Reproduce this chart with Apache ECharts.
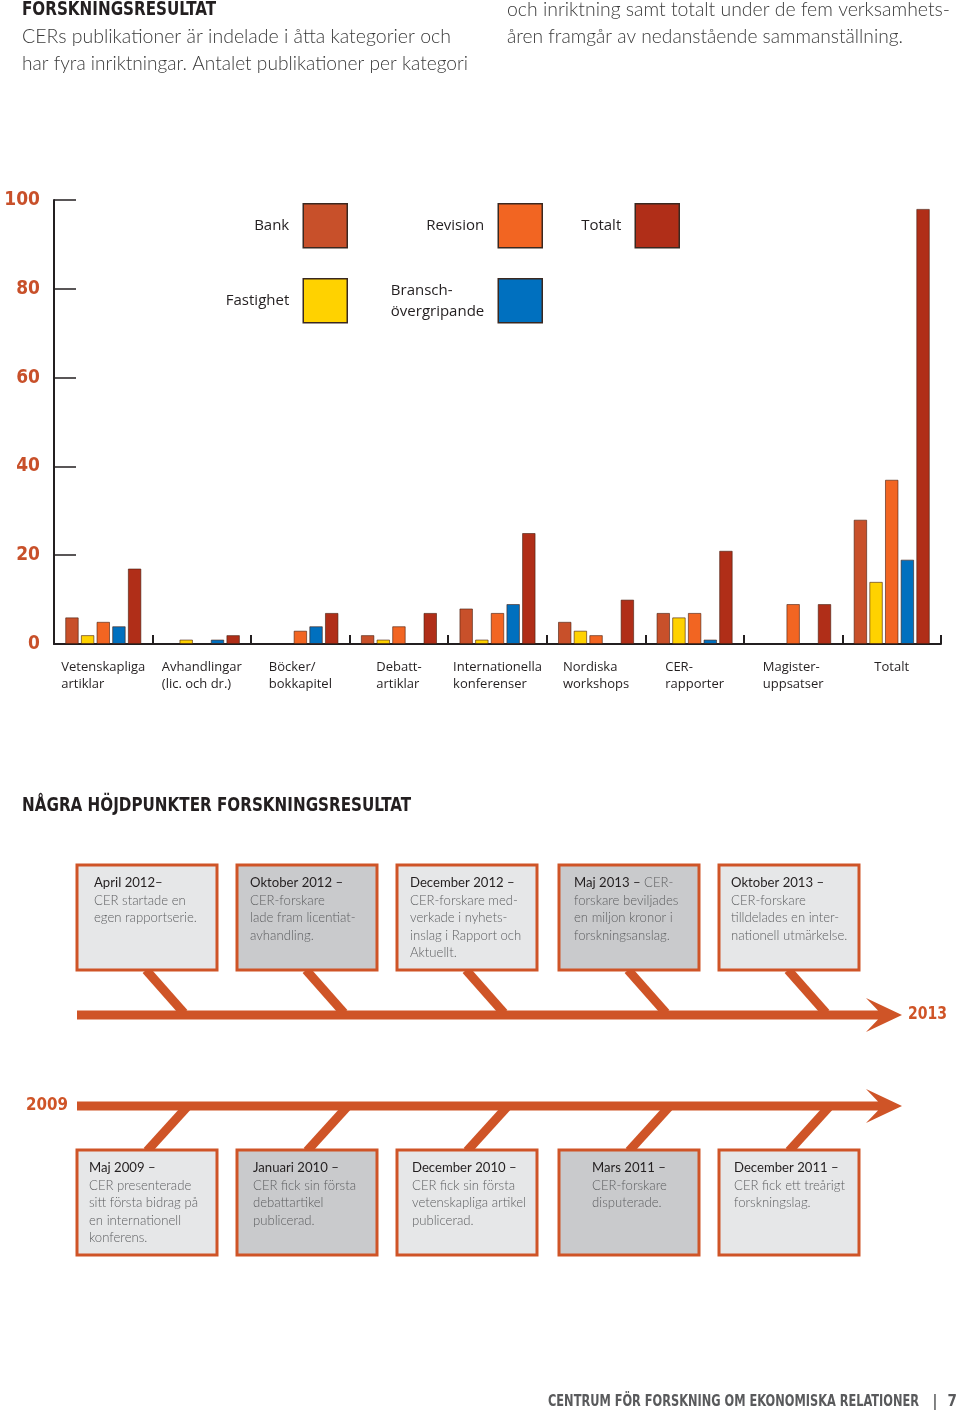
<!DOCTYPE html>
<html>
<head>
<meta charset="utf-8">
<script src="https://cdn.jsdelivr.net/npm/echarts@6/dist/echarts.min.js"></script>
<style>
html,body{margin:0;padding:0;background:#fff;}
#c{width:960px;height:1414px;}
</style>
</head>
<body>
<div id="c"></div>
<script>
// ---------- DATA ----------
const categories = ['Vetenskapliga\nartiklar', 'Avhandlingar\n(lic. och dr.)', 'Böcker/\nbokkapitel', 'Debatt-\nartiklar', 'Internationella\nkonferenser', 'Nordiska\nworkshops', 'CER-\nrapporter', 'Magister-\nuppsatser', 'Totalt'];
const seriesNames = ['Bank', 'Fastighet', 'Revision', 'Bransch-övergripande', 'Totalt'];
const bank      = [6, 0, 0, 2, 8, 5, 7, 0, 28];
const fastighet = [2, 1, 0, 1, 1, 3, 6, 0, 14];
const revision  = [5, 0, 3, 4, 7, 2, 7, 9, 37];
const bransch   = [4, 1, 4, 0, 9, 0, 1, 0, 19];
const totalt    = [17, 2, 7, 7, 25, 10, 21, 9, 98];
const yTicks = [0, 20, 40, 60, 80, 100];

const headerTitle = 'FORSKNINGSRESULTAT';
const headerLeft = ['CERs publikationer är indelade i åtta kategorier och', 'har fyra inriktningar. Antalet publikationer per kategori'];
const headerRight = ['och inriktning samt totalt under de fem verksamhets-', 'åren framgår av nedanstående sammanställning.'];
const timelineTitle = 'NÅGRA HÖJDPUNKTER FORSKNINGSRESULTAT';
const upperDates = ['April 2012–', 'Oktober 2012 –', 'December 2012 –', 'Maj 2013 –', 'Oktober 2013 –'];
const upperTexts = [
  ['', 'CER startade en', 'egen rapportserie.'],
  ['', 'CER-forskare', 'lade fram licentiat-', 'avhandling.'],
  ['', 'CER-forskare med-', 'verkade i nyhets-', 'inslag i Rapport och', 'Aktuellt.'],
  [' CER-', 'forskare beviljades', 'en miljon kronor i', 'forskningsanslag.'],
  ['', 'CER-forskare', 'tilldelades en inter-', 'nationell utmärkelse.']
];
const lowerDates = ['Maj 2009 –', 'Januari 2010 –', 'December 2010 –', 'Mars 2011 –', 'December 2011 –'];
const lowerTexts = [
  ['', 'CER presenterade', 'sitt första bidrag på', 'en internationell', 'konferens.'],
  ['', 'CER fick sin första', 'debattartikel', 'publicerad.'],
  ['', 'CER fick sin första', 'vetenskapliga artikel', 'publicerad.'],
  ['', 'CER-forskare', 'disputerade.'],
  ['', 'CER fick ett treårigt', 'forskningslag.']
];
const yearStart = '2009';
const yearEnd = '2013';
const footerText = 'CENTRUM FÖR FORSKNING OM EKONOMISKA RELATIONER';
const pageNumber = '7';

// ---------- STYLE ----------
const colors = ['#C8502A', '#FFD200', '#F26522', '#0070BF', '#B02E18'];
const ORANGE = '#CF5427';
const DARK = '#231f20';
const COND = '"DejaVu Sans Condensed", sans-serif';
const LIGHT = 'Lato, "Open Sans", sans-serif';
const SANS = '"Open Sans", "Noto Sans", sans-serif';

const allSeries = [bank, fastighet, revision, bransch, totalt];

const mctx = document.createElement('canvas').getContext('2d');
function measure(text, font) { mctx.font = font; return mctx.measureText(text).width; }

const chart = echarts.init(document.getElementById('c'), null, {renderer: 'canvas'});

const legendPos = [
  {right: 612, top: 203}, {right: 612, top: 278}, {right: 417, top: 203}, {right: 417, top: 278}, {right: 280, top: 203}
];
const legends = seriesNames.map((n, i) => ({
  data: [n],
  right: legendPos[i].right, top: legendPos[i].top,
  orient: 'horizontal', align: 'right', padding: 0,
  itemWidth: 44, itemHeight: 44, icon: 'rect', selectedMode: false,
  itemStyle: {borderColor: '#3a2820', borderWidth: 1.5},
  formatter: name => name === 'Bransch-övergripande' ? '{a|Bransch-}\n{a|övergripande}' : name,
  textStyle: {
    color: DARK, fontFamily: SANS, fontSize: 15, lineHeight: 21, padding: [0, 9, 0, 0],
    rich: {a: {align: 'left', color: DARK, fontFamily: SANS, fontSize: 15, lineHeight: 21}}
  }
}));

const g = [];
function fitTxt(x, y, text, font, fill, targetW, align) {
  const w = measure(text, font);
  const s = targetW ? targetW / w : 1;
  g.push({type: 'text', silent: true, x: x, y: y, scaleX: s, originX: 0, originY: 0,
    style: {x: 0, y: 0, text: text, font: font, fill: fill, align: align || 'left', verticalAlign: 'middle'}});
}
fitTxt(22, 10, headerTitle, 'bold 19px ' + COND, DARK, 194);
const hFont = '300 19.5px ' + LIGHT;
fitTxt(22, 37, headerLeft[0], hFont, '#3a3a3a', 429);
fitTxt(22, 64, headerLeft[1], hFont, '#3a3a3a', 446);
fitTxt(507, 10, headerRight[0], hFont, '#3a3a3a', 443);
fitTxt(507, 37, headerRight[1], hFont, '#3a3a3a', 396);
fitTxt(22, 806, timelineTitle, 'bold 19px ' + COND, DARK, 389);

const boxX = [77, 237, 397, 559, 719];
const upperPad = [17, 13, 13, 15, 12];
const lowerPad = [12, 16, 15, 33, 15];
const boxFill = ['#E6E7E8', '#C9CACC', '#E6E7E8', '#C9CACC', '#E6E7E8'];
const boxFont = '300 14px ' + LIGHT;
const dateFont = '14px ' + LIGHT;
const boxScale = 109 / measure(lowerTexts[0][2], boxFont);

function boxText(bx, top, pad, date, lines) {
  const first = '{d|' + date + '}' + (lines[0] ? '{t|' + lines[0] + '}' : '');
  const rest = lines.slice(1).map(l => '{t|' + l + '}');
  const text = [first].concat(rest).join('\n');
  g.push({type: 'text', silent: true, x: bx + pad, y: top + 9, scaleX: boxScale, originX: 0, originY: 0,
    style: {
      x: 0, y: 0, text: text, align: 'left', verticalAlign: 'top',
      rich: {
        d: {font: dateFont, fill: DARK, lineHeight: 17.5},
        t: {font: boxFont, fill: '#5d5e60', lineHeight: 17.5}
      }
    }});
}

boxX.forEach((bx, i) => {
  g.push({type: 'line', silent: true, shape: {x1: bx + 69, y1: 970, x2: bx + 107, y2: 1013}, style: {stroke: ORANGE, lineWidth: 9}});
  g.push({type: 'rect', silent: true, shape: {x: bx, y: 865, width: 140, height: 105}, style: {fill: boxFill[i], stroke: ORANGE, lineWidth: 3}});
  boxText(bx, 865, upperPad[i], upperDates[i], upperTexts[i]);
});
boxX.forEach((bx, i) => {
  g.push({type: 'line', silent: true, shape: {x1: bx + 110, y1: 1107, x2: bx + 70, y2: 1151}, style: {stroke: ORANGE, lineWidth: 9}});
  g.push({type: 'rect', silent: true, shape: {x: bx, y: 1150, width: 140, height: 105}, style: {fill: boxFill[i], stroke: ORANGE, lineWidth: 3}});
  boxText(bx, 1150, lowerPad[i], lowerDates[i], lowerTexts[i]);
});
function arrow(cy, headH) {
  g.push({type: 'polygon', silent: true, shape: {points: [
    [77, cy - 4.5], [878, cy - 4.5], [866, cy - headH], [902, cy], [866, cy + headH], [878, cy + 4.5], [77, cy + 4.5]
  ]}, style: {fill: ORANGE}});
}
arrow(1015, 17);
arrow(1106, 17);
fitTxt(908, 1014, yearEnd, 'bold 18px ' + COND, ORANGE, 39);
fitTxt(26, 1105, yearStart, 'bold 18px ' + COND, ORANGE, 42);
fitTxt(919, 1402, footerText, 'bold 15px ' + COND, '#595a5c', 371, 'right');
fitTxt(935, 1402, '|', 'bold 15px ' + COND, '#595a5c', null, 'center');
fitTxt(957, 1402, pageNumber, 'bold 15px ' + COND, '#595a5c', null, 'right');

const option = {
  animation: false,
  backgroundColor: '#ffffff',
  legend: legends,
  grid: {left: 54, right: 19, top: 200, bottom: 770, containLabel: false, outerBoundsMode: 'none'},
  xAxis: {
    type: 'category', data: categories, boundaryGap: true,
    axisLine: {show: true, lineStyle: {color: DARK, width: 2}},
    axisTick: {show: true, inside: true, length: 9, interval: 0, lineStyle: {color: DARK, width: 2}},
    axisLabel: {
      interval: 0, margin: 15, color: DARK, fontFamily: SANS, fontSize: 13, lineHeight: 17,
      formatter: v => v.split('\n').map(s => '{a|' + s + '}').join('\n'),
      rich: {a: {align: 'left', color: DARK, fontFamily: SANS, fontSize: 13, lineHeight: 17}}
    },
    splitLine: {show: false}
  },
  yAxis: {
    type: 'value', min: yTicks[0], max: yTicks[yTicks.length - 1], interval: yTicks[1] - yTicks[0],
    axisLine: {show: true, lineStyle: {color: DARK, width: 2}},
    axisTick: {show: true, inside: true, length: 22, lineStyle: {color: DARK, width: 1.5}},
    splitLine: {show: false},
    axisLabel: {margin: 14, color: '#C8502A', fontFamily: COND, fontWeight: 'bold', fontSize: 19}
  },
  series: allSeries.map((arr, i) => ({
    name: seriesNames[i], type: 'bar',
    barWidth: 13.5, barGap: '16%',
    data: arr.map(v => v === 0 ? null : v),
    itemStyle: {color: colors[i], borderColor: 'rgba(70,30,15,0.6)', borderWidth: 1}
  })),
  graphic: {elements: g}
};
chart.setOption(option);
</script>
</body>
</html>
